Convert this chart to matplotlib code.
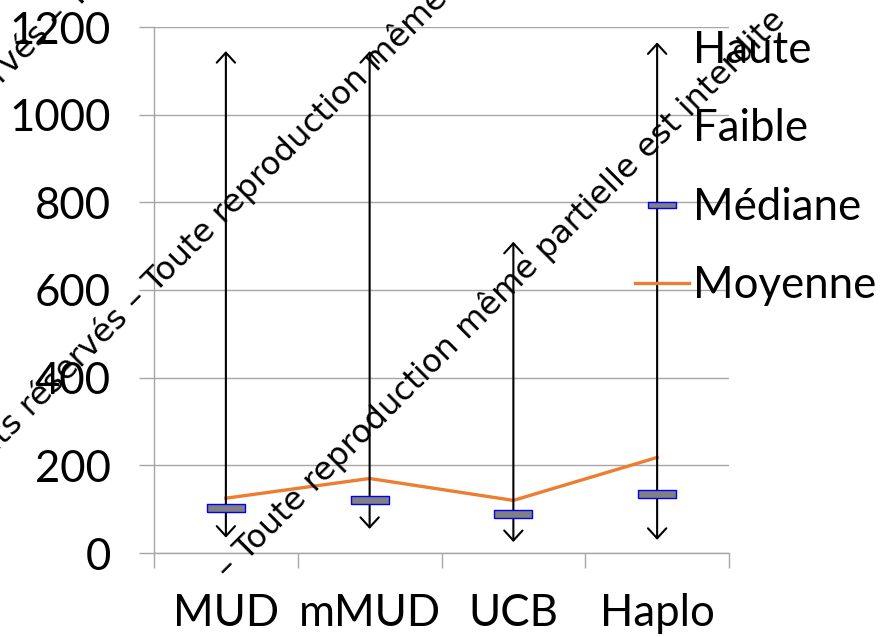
import numpy as np
import matplotlib.pyplot as plt

# Données par groupe de greffe
categories = ['MUD', 'mMUD', 'UCB', 'Haplo']
haute = [1145, 1145, 710, 1165]
faible = [35, 55, 25, 30]
mediane = [103, 120, 90, 135]
moyenne = [125, 170, 120, 218]

grid_color = '#A6A6A6'
label_font = 'Lato'
label_size = 31.5

fig = plt.figure(figsize=(8.8, 6.37), dpi=100)
ax = fig.add_axes([154 / 880, 1 - 553 / 637, 575 / 880, 526 / 637])

x = np.arange(len(categories))

# Barres haute-faible avec flèches aux deux extrémités
for xi, lo, hi in zip(x, faible, haute):
    ax.annotate('', xy=(xi, hi), xytext=(xi, lo),
                arrowprops=dict(arrowstyle='<->,head_length=0.36,head_width=0.33',
                                mutation_scale=20, lw=1.5, color='black',
                                shrinkA=0, shrinkB=0), zorder=3)

# Séries invisibles pour la légende
ax.plot(x, haute, linestyle='none', label='Haute')
ax.plot(x, faible, linestyle='none', label='Faible')

# Médiane : petit rectangle gris bordé de bleu
rect = [(-1, -0.21), (1, -0.21), (1, 0.21), (-1, 0.21), (-1, -0.21)]
ax.plot(x, mediane, linestyle='none', marker=rect, markersize=27.5,
        markerfacecolor='#808080', markeredgecolor='#0000FF',
        markeredgewidth=1.0, label='Médiane', zorder=4)

# Moyenne : ligne orange
ax.plot(x, moyenne, color='#ED7D31', lw=2.4, label='Moyenne', zorder=2)

ax.set_xlim(-0.5, 3.5)
ax.set_ylim(0, 1200)
ax.set_yticks(np.arange(0, 1201, 200))
ax.set_xticks(x)
ax.set_xticklabels(categories)
ax.set_xticks(np.arange(-0.5, 4, 1), minor=True)

ax.yaxis.grid(True, color=grid_color, lw=1.0)
ax.set_axisbelow(True)
for s in ['top', 'right']:
    ax.spines[s].set_visible(False)
for s in ['left', 'bottom']:
    ax.spines[s].set_color(grid_color)
    ax.spines[s].set_linewidth(1.0)

ax.tick_params(axis='y', length=11, width=1.0, color=grid_color, pad=20,
               labelsize=label_size)
ax.tick_params(axis='x', which='major', length=0, pad=29, labelsize=label_size)
ax.tick_params(axis='x', which='minor', length=11, width=1.0, color=grid_color)
for lab in ax.get_xticklabels() + ax.get_yticklabels():
    lab.set_fontfamily(label_font)

leg = ax.legend(loc='center left', bbox_to_anchor=(635 / 880, 1 - 168 / 637),
                bbox_transform=fig.transFigure, frameon=False,
                prop={'family': label_font, 'size': label_size}, markerscale=0.72,
                handlelength=1.23, handletextpad=0.1, labelspacing=0.86,
                borderpad=0, borderaxespad=0)

# Filigrane en diagonale
wm_pre = 'Droits réservés '
wm_post = '– Toute reproduction même partielle est interdite'
wm_lines = [(58, 28, True), (137, 312, True), (228, 580, False)]
for px, py, with_pre in wm_lines:
    fx, fy = px / 880, 1 - py / 637
    if with_pre:
        fig.text(fx, fy, wm_pre, rotation=45, rotation_mode='anchor',
                 ha='right', va='baseline', fontsize=23.2,
                 family='DejaVu Sans', zorder=10)
    fig.text(fx, fy, wm_post, rotation=45, rotation_mode='anchor',
             ha='left', va='baseline', fontsize=23.2,
             family='DejaVu Sans', zorder=10)

fig.savefig('out.png', dpi=100)
